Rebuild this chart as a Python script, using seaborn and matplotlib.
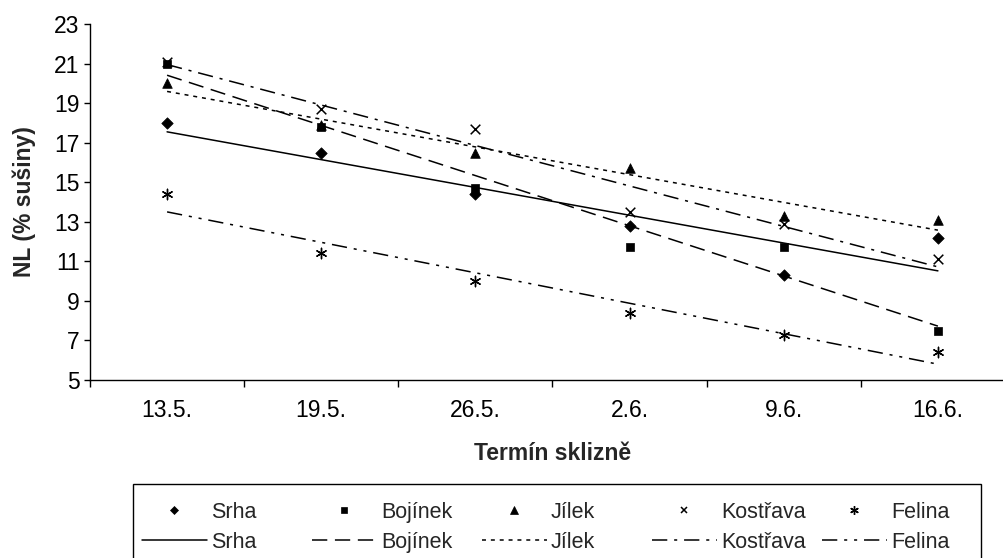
import numpy as np
import matplotlib
matplotlib.use("Agg")
import matplotlib.pyplot as plt
from matplotlib.lines import Line2D
from matplotlib.patches import Rectangle
import seaborn as sns

# Harvest dates and crude fibre content (% of dry matter) per grass variety
dates = ["13.5.", "19.5.", "26.5.", "2.6.", "9.6.", "16.6."]
srha = [18.0, 16.5, 14.4, 12.8, 10.3, 12.2]
bojinek = [21.0, 17.8, 14.7, 11.7, 11.7, 7.5]
jilek = [20.0, 17.9, 16.5, 15.7, 13.3, 13.1]
kostrava = [21.1, 18.7, 17.7, 13.5, 12.9, 11.1]
felina = [14.4, 11.4, 10.0, 8.4, 7.3, 6.4]

names = ["Srha", "Bojínek", "Jílek", "Kostřava", "Felina"]
values = [srha, bojinek, jilek, kostrava, felina]

sns.set_style("ticks")
plt.rcParams["font.family"] = ["Liberation Sans", "DejaVu Sans"]

# marker, scatter size, legend marker size, edge width
markers = [
    ("D", 34, 4.2, 0.5),
    ("s", 30, 4.4, 0.5),
    ("^", 48, 5.2, 0.5),
    ("x", 48, 5.0, 1.1),
    ((6, 2, 0), 56, 6.2, 1.0),
]
styles = [
    "-",
    (0, (10, 5)),
    (0, (2.6, 3.2)),
    (0, (10, 4.5, 2, 4.5)),
    (0, (10, 4.5, 2, 4.5, 2, 4.5)),
]

fig = plt.figure(figsize=(10.04, 5.58), dpi=100)
ax = fig.add_axes([90 / 1004, 1 - 380 / 558, 925 / 1004, 356 / 558])

pos = np.arange(len(dates))
for vals, (mk, s, _, ew), ls in zip(values, markers, styles):
    sns.regplot(x=pos, y=np.array(vals), scatter=False, ci=None, truncate=True,
                color="black", line_kws=dict(lw=1.1, linestyle=ls), ax=ax)
    sns.scatterplot(x=pos, y=vals, marker=mk, s=s, color="black",
                    edgecolor="black", linewidth=ew, ax=ax, zorder=3)

ax.set_xlim(-0.5, len(dates) - 0.5)
ax.set_ylim(5, 23)
ax.set_yticks(np.arange(5, 24, 2))
ax.set_xticks(pos)
ax.set_xticklabels(dates)
ax.set_xticks(np.arange(-0.5, len(dates), 1.0), minor=True)

for side in ["top", "right"]:
    ax.spines[side].set_visible(False)
for side in ["left", "bottom"]:
    ax.spines[side].set_color("black")
    ax.spines[side].set_linewidth(1.0)

ax.tick_params(axis="x", which="major", length=0, pad=14, labelsize=16.5, colors="black")
ax.tick_params(axis="x", which="minor", length=5, width=1.0, direction="out", color="black")
ax.tick_params(axis="y", which="major", length=4.5, width=1.0, direction="out",
               pad=3, labelsize=16.5, colors="black")

ax.set_xlabel("Termín sklizně", fontsize=16.5, fontweight="bold")
ax.set_ylabel("NL (% sušiny)", fontsize=16.5, fontweight="bold")
ax.xaxis.set_label_coords(0.5, -0.175)
ax.yaxis.set_label_coords(-0.058, 0.5)

# Legend frame and one two-row column per variety
fig.patches.append(Rectangle((133 / 1004, 1 - 575 / 558), (981 - 133) / 1004, 91 / 558,
                             transform=fig.transFigure, fill=False,
                             edgecolor="black", lw=1.0))
for i, (name, (mk, s, msz, ew), ls) in enumerate(zip(names, markers, styles)):
    h_marker = Line2D([], [], marker=mk, linestyle="None", color="black",
                      markersize=msz, markeredgewidth=ew)
    h_line = Line2D([], [], color="black", lw=1.1, linestyle=ls)
    fig.legend([h_marker, h_line], [name, name],
               loc="upper left",
               bbox_to_anchor=((142 + i * 170) / 1004, 1 - 502 / 558),
               bbox_transform=fig.transFigure,
               frameon=False, fontsize=15.5, handlelength=3.0,
               handletextpad=0.2, borderpad=0, borderaxespad=0,
               labelspacing=0.4, numpoints=1)

fig.savefig("out.png", dpi=100)
